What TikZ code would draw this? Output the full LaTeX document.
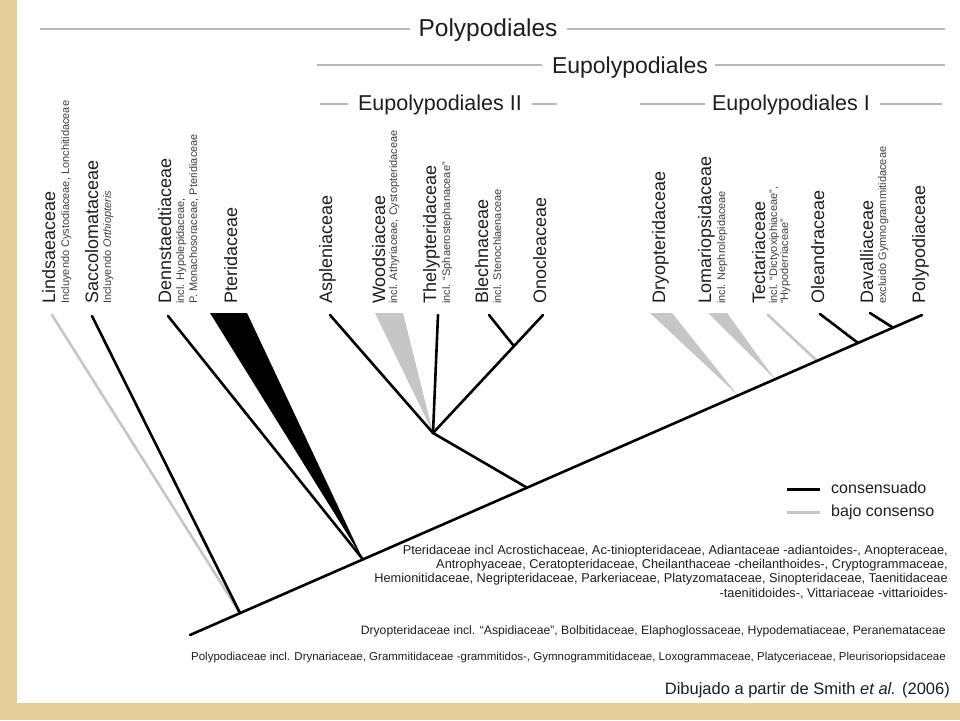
\documentclass[tikz,border=0pt]{standalone}
\usepackage{fontspec}
\setmainfont{Liberation Sans}
\usetikzlibrary{calc}
\definecolor{beige}{HTML}{E4CF9C}
\definecolor{lgray}{HTML}{C6C6C6}
\definecolor{hgray}{HTML}{B8B8B8}
\definecolor{txt}{HTML}{1E1E1E}
\begin{document}
\begin{tikzpicture}[x=1pt,y=-1pt,
  taxon/.style={rotate=90, anchor=base west, inner sep=0pt, font=\fontsize{18}{20}\selectfont, text=txt},
  note/.style={rotate=90, anchor=base west, inner sep=0pt, font=\fontsize{11}{12}\selectfont, text=txt!85},
  header/.style={anchor=base, inner sep=0pt, font=\fontsize{21.5}{24}\selectfont, text=txt},
  hline/.style={draw=hgray, line width=2.4pt},
  cons/.style={draw=black, line width=2.6pt, line cap=round},
  weak/.style={draw=lgray, line width=2.6pt, line cap=round},
  blk/.style={inner sep=0pt, anchor=base east, font=\fontsize{12.8}{14}\selectfont, text=txt},
  leg/.style={inner sep=0pt, anchor=west, font=\fontsize{16}{18}\selectfont, text=txt},
]
% background
\fill[white] (0,0) rectangle (960,720);
\fill[beige] (0,0) rectangle (17,720);
\fill[beige] (0,703) rectangle (960,720);
\useasboundingbox (0,0) rectangle (960,720);

% headers
\node[header, font=\fontsize{24.5}{26}\selectfont] (hPoly) at (488,36) {Polypodiales};
\node[header, font=\fontsize{23}{25}\selectfont] (hEup) at (630,73) {Eupolypodiales};
\node[header] (hE2) at (440,110) {Eupolypodiales II};
\node[header] (hE1) at (791,110) {Eupolypodiales I};
\coordinate (p1) at (40,29);  \coordinate (p2) at (410,29);
\coordinate (p3) at (567,29); \coordinate (p4) at (945,29);
\coordinate (e1) at (317,65); \coordinate (e2) at (542,65);
\coordinate (e3) at (715,65); \coordinate (e4) at (945,65);
\coordinate (a1) at (320,104); \coordinate (a2) at (348,104);
\coordinate (a3) at (532,104); \coordinate (a4) at (557,104);
\coordinate (b1) at (640,104); \coordinate (b2) at (705,104);
\coordinate (b3) at (880,104); \coordinate (b4) at (942,104);
\draw[hline] (p1) -- (p2); \draw[hline] (p3) -- (p4);
\draw[hline] (e1) -- (e2); \draw[hline] (e3) -- (e4);
\draw[hline] (a1) -- (a2); \draw[hline] (a3) -- (a4);
\draw[hline] (b1) -- (b2); \draw[hline] (b3) -- (b4);

% taxon labels
\node[taxon] (lLin) at (55,304) {Lindsaeaceae};
\node[note]  (sLin) at (69,304) {Incluyendo Cystodiaceae, Lonchitidaceae};
\node[taxon] (lSac) at (98,304) {Saccolomataceae};
\node[note]  (sSac) at (111,304) {Incluyendo \textit{Orthiopteris}};
\node[taxon] (lDen) at (171,304) {Dennstaedtiaceae};
\node[note]  (sDen1) at (184,304) {incl. Hypolepidaceae,};
\node[note]  (sDen2) at (197,304) {P. Monachosoraceae, Pteridiaceae};
\node[taxon] (lPte) at (237,304) {Pteridaceae};
\node[taxon] (lAsp) at (332,304) {Aspleniaceae};
\node[taxon] (lWoo) at (385,304) {Woodsiaceae};
\node[note]  (sWoo) at (397,304) {incl. Athyriaceae, Cystopteridaceae};
\node[taxon] (lThe) at (436,304) {Thelypteridaceae};
\node[note]  (sThe) at (450,304) {incl. ``Sphaerostephanaceae''};
\node[taxon] (lBle) at (488,304) {Blechnaceae};
\node[note]  (sBle) at (501,304) {incl. Stenochlaenaceae};
\node[taxon] (lOno) at (546,304) {Onocleaceae};
\node[taxon] (lDry) at (665,304) {Dryopteridaceae};
\node[taxon] (lLom) at (711,304) {Lomariopsidaceae};
\node[note]  (sLom) at (725,304) {incl. Nephrolepidaceae};
\node[taxon] (lTec) at (765,304) {Tectariaceae};
\node[note]  (sTec1) at (777,304) {incl. ``Dictyoxiphiaceae'',};
\node[note]  (sTec2) at (788,304) {``Hypoderriaceae''};
\node[taxon] (lOle) at (824,304) {Oleandraceae};
\node[taxon] (lDav) at (873,304) {Davalliaceae};
\node[note]  (sDav) at (886,304) {excluido Gymnogrammitidaceae};
\node[taxon] (lPol) at (925,304) {Polypodiaceae};

% tree coordinates
\coordinate (R) at (190,635);
\coordinate (P) at (922,315);
\coordinate (nLin) at ($(R)!0.0683!(P)$);
\coordinate (nDen) at ($(R)!0.2363!(P)$);
\coordinate (nEup) at ($(R)!0.4604!(P)$);
\coordinate (nDry) at ($(R)!0.7486!(P)$);
\coordinate (nLom) at ($(R)!0.7992!(P)$);
\coordinate (nTec) at ($(R)!0.8566!(P)$);
\coordinate (nOle) at ($(R)!0.9126!(P)$);
\coordinate (nDav) at ($(R)!0.9604!(P)$);
\coordinate (nE2) at (433,433);
\coordinate (tLin) at (52,315);
\coordinate (tSac) at (92,316);
\coordinate (tDen) at (168,316);
\coordinate (tAsp) at (330,315);
\coordinate (tThe) at (438,315);
\coordinate (tBle) at (489,315);
\coordinate (tOno) at (543,315);
\coordinate (nBO) at ($(tOno)!0.264!(nE2)$);
\coordinate (tTec) at (768,315);
\coordinate (tOle) at (820,314);
\coordinate (tDav) at (870,313);

% weakly supported (grey)
\draw[weak] (tLin) -- (nLin);
\fill[lgray] (375,313) -- (403,313) -- (nE2) -- cycle;
\fill[lgray] (650,313) -- (672,313) -- (nDry) -- cycle;
\fill[lgray] (708,313) -- (727,313) -- (nLom) -- cycle;
\draw[weak] (tTec) -- (nTec);

% consensus (black)
\draw[cons] (R) -- (P);
\draw[cons] (tSac) -- (nLin);
\draw[cons] (tDen) -- (nDen);
\fill[black] (210,313) -- (247,313) -- (nDen) -- cycle;
\draw[cons] (tAsp) -- (nE2);
\draw[cons] (tThe) -- (nE2);
\draw[cons] (tOno) -- (nE2);
\draw[cons] (tBle) -- (nBO);
\draw[cons] (nE2) -- (nEup);
\draw[cons] (tOle) -- (nOle);
\draw[cons] (tDav) -- (nDav);

% legend
\coordinate (g1) at (787,489); \coordinate (g2) at (820,489);
\coordinate (g3) at (787,512); \coordinate (g4) at (820,512);
\draw[black, line width=3pt] (g1) -- (g2);
\draw[lgray, line width=3pt] (g3) -- (g4);
\node[leg] (lc) at (831,488) {consensuado};
\node[leg] (lb) at (831,512) {bajo consenso};

% bottom text
\node[blk] (t1) at (948,554) {Pteridaceae incl Acrostichaceae, Ac-tiniopteridaceae, Adiantaceae -adiantoides-, Anopteraceae,};
\node[blk] (t2) at (948,568) {Antrophyaceae, Ceratopteridaceae, Cheilanthaceae -cheilanthoides-, Cryptogrammaceae,};
\node[blk] (t3) at (948,582) {Hemionitidaceae, Negripteridaceae, Parkeriaceae, Platyzomataceae, Sinopteridaceae, Taenitidaceae};
\node[blk] (t4) at (948,597) {-taenitidoides-, Vittariaceae -vittarioides-};
\node[blk, font=\fontsize{12.2}{14}\selectfont] (t5) at (946,634) {Dryopteridaceae incl. ``Aspidiaceae'', Bolbitidaceae, Elaphoglossaceae, Hypodematiaceae, Peranemataceae};
\node[blk, font=\fontsize{11.5}{14}\selectfont] (t6) at (946,660) {Polypodiaceae incl. Drynariaceae, Grammitidaceae -grammitidos-, Gymnogrammitidaceae, Loxogrammaceae, Platyceriaceae, Pleurisoriopsidaceae};
\node[inner sep=0pt, anchor=base east, font=\fontsize{16.5}{18}\selectfont, text=txt] (cred) at (950,694) {Dibujado a partir de Smith \textit{et al.} (2006)};
\end{tikzpicture}
\end{document}
